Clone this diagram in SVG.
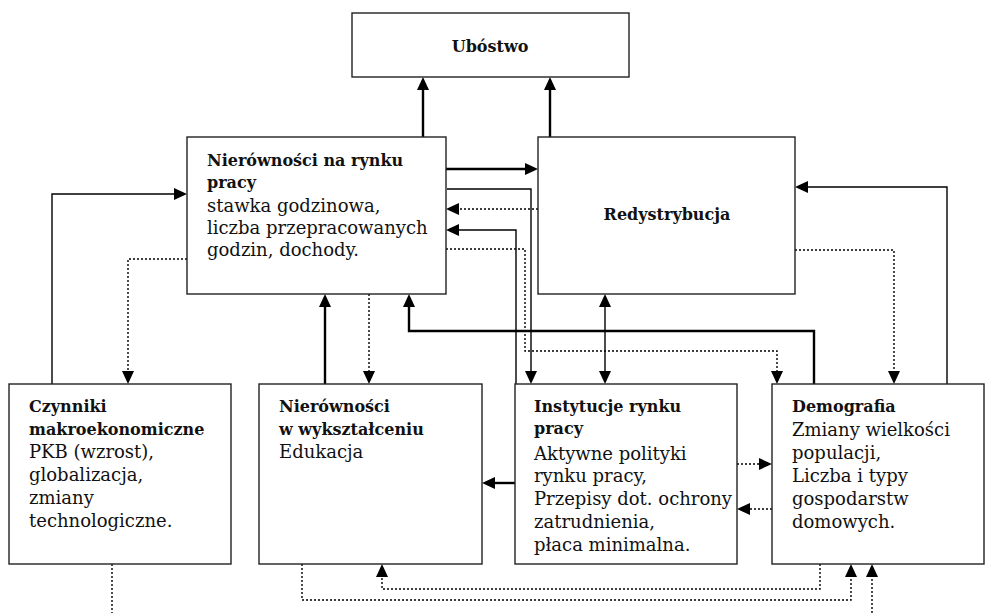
<svg xmlns="http://www.w3.org/2000/svg" width="986" height="613" viewBox="0 0 986 613">
<style>
.box{fill:#fff;stroke:#222;stroke-width:1.4}
text{font-family:"DejaVu Serif","Liberation Serif",serif;fill:#111}
.b{font-weight:bold;font-size:16px}
.r{font-size:18px}
.c{fill:none;stroke:#000}
.thin{stroke-width:1.4}
.thick{stroke-width:2.4}
.dot{stroke-width:1.4;stroke-dasharray:2 2}
</style>
<defs>
<marker id="ah" markerUnits="userSpaceOnUse" markerWidth="13" markerHeight="12" refX="0" refY="6" orient="auto-start-reverse">
<path d="M0,0 L13,6 L0,12 z" fill="#000"/>
</marker>
</defs>
<rect width="986" height="613" fill="#fff"/>
<g id="connectors">
<path class="c thick" d="M423,137 V90" marker-end="url(#ah)"/>
<path class="c thick" d="M550,137 V90" marker-end="url(#ah)"/>
<path class="c thick" d="M446,169 H525" marker-end="url(#ah)"/>
<path class="c thin" d="M447,189 H531 V371" marker-end="url(#ah)"/>
<path class="c dot" d="M538,209 H459" marker-end="url(#ah)"/>
<path class="c thin" d="M516,384 V230 H459" marker-end="url(#ah)"/>
<path class="c dot" d="M446,249 H525 V351 H777 V371" marker-end="url(#ah)"/>
<path class="c thick" d="M814,384 V331 H409 V307" marker-end="url(#ah)"/>
<path class="c thick" d="M325,384 V307" marker-end="url(#ah)"/>
<path class="c dot" d="M369,294 V371" marker-end="url(#ah)"/>
<path class="c thin" d="M605,307 V371" marker-start="url(#ah)" marker-end="url(#ah)"/>
<path class="c thin" d="M52,384 V194 H174" marker-end="url(#ah)"/>
<path class="c dot" d="M187,259 H128 V371" marker-end="url(#ah)"/>
<path class="c thin" d="M947,384 V187 H808" marker-end="url(#ah)"/>
<path class="c dot" d="M795,250 H894 V371" marker-end="url(#ah)"/>
<path class="c dot" d="M737,464 H759" marker-end="url(#ah)"/>
<path class="c dot" d="M772,509 H750" marker-end="url(#ah)"/>
<path class="c thick" d="M515,483 H495" marker-end="url(#ah)"/>
<path class="c dot" d="M820,564 V589 H382 V577" marker-end="url(#ah)"/>
<path class="c dot" d="M302,564 V600 H851 V577" marker-end="url(#ah)"/>
<path class="c dot" d="M872,613 V577" marker-end="url(#ah)"/>
<path class="c dot" d="M112,564 V613"/>
</g>
<g id="ubostwo">
<rect class="box" x="352" y="13" width="277" height="64"/>
<text class="b" x="490" y="52" text-anchor="middle">Ubóstwo</text>
</g>
<g id="nierownosci-rynek">
<rect class="box" x="187" y="137" width="259" height="157"/>
<text class="b" x="207" y="166">Nierówności na rynku</text>
<text class="b" x="207" y="188">pracy</text>
<text class="r" x="207" y="212">stawka godzinowa,</text>
<text class="r" x="207" y="234">liczba przepracowanych</text>
<text class="r" x="207" y="256">godzin, dochody.</text>
</g>
<g id="redystrybucja">
<rect class="box" x="538" y="137" width="257" height="157"/>
<text class="b" x="667" y="220" text-anchor="middle">Redystrybucja</text>
</g>
<g id="czynniki">
<rect class="box" x="9" y="384" width="222" height="180"/>
<text class="b" x="29" y="412">Czynniki</text>
<text class="b" x="29" y="435">makroekonomiczne</text>
<text class="r" x="29" y="458">PKB (wzrost),</text>
<text class="r" x="29" y="481">globalizacja,</text>
<text class="r" x="29" y="504">zmiany</text>
<text class="r" x="29" y="527">technologiczne.</text>
</g>
<g id="wyksztalcenie">
<rect class="box" x="259" y="384" width="223" height="180"/>
<text class="b" x="279" y="412">Nierówności</text>
<text class="b" x="279" y="435">w wykształceniu</text>
<text class="r" x="279" y="458">Edukacja</text>
</g>
<g id="instytucje">
<rect class="box" x="515" y="384" width="222" height="180"/>
<text class="b" x="534" y="412">Instytucje rynku</text>
<text class="b" x="534" y="434">pracy</text>
<text class="r" x="534" y="460">Aktywne polityki</text>
<text class="r" x="534" y="482">rynku pracy,</text>
<text class="r" x="534" y="505">Przepisy dot. ochrony</text>
<text class="r" x="534" y="528">zatrudnienia,</text>
<text class="r" x="534" y="551">płaca minimalna.</text>
</g>
<g id="demografia">
<rect class="box" x="772" y="384" width="212" height="180"/>
<text class="b" x="792" y="412">Demografia</text>
<text class="r" x="792" y="436">Zmiany wielkości</text>
<text class="r" x="792" y="459">populacji,</text>
<text class="r" x="792" y="482">Liczba i typy</text>
<text class="r" x="792" y="505">gospodarstw</text>
<text class="r" x="792" y="528">domowych.</text>
</g>
</svg>
